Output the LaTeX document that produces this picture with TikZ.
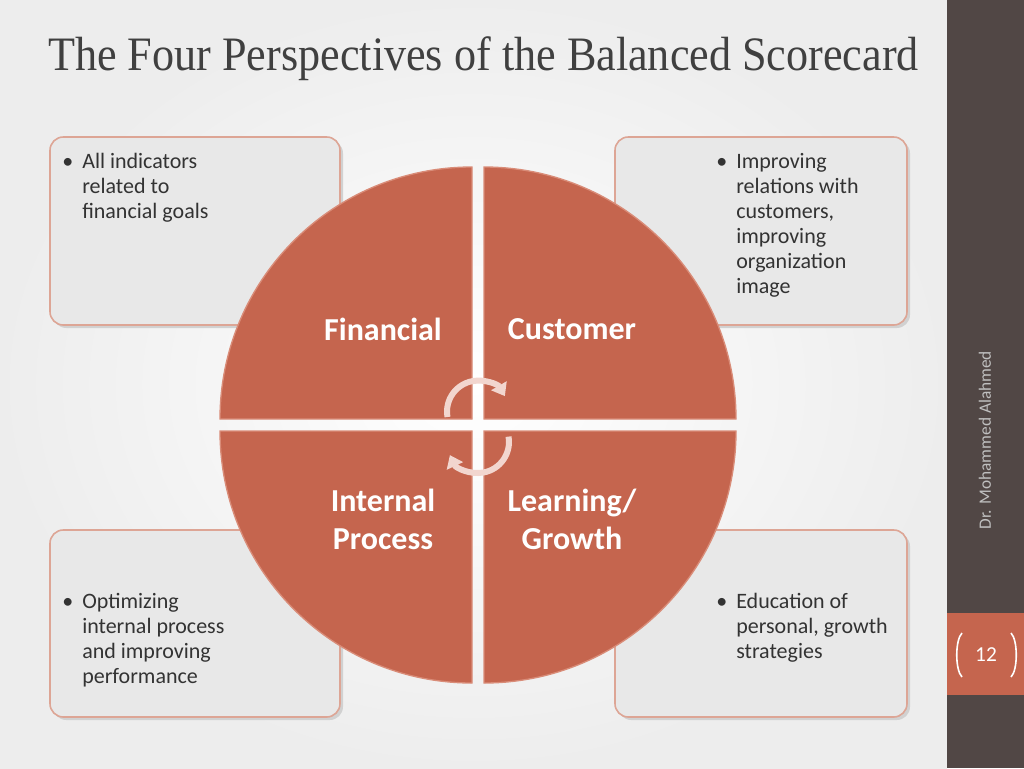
\documentclass[tikz,border=0pt]{standalone}
\usepackage{fontspec}
\setmainfont{Carlito}
\newfontfamily\titlefont{Liberation Serif}
\definecolor{quad}{HTML}{C5654E}
\definecolor{quadb}{HTML}{D98C78}
\definecolor{boxf}{HTML}{E8E8E8}
\definecolor{boxb}{HTML}{DDA595}
\definecolor{side}{HTML}{514745}
\definecolor{txt}{HTML}{333333}
\definecolor{arr}{HTML}{F2D6CF}
\usetikzlibrary{arrows.meta,shadows}
\newcommand{\bl}{\makebox[15pt][l]{\textbullet}}
\newcommand{\ind}{\hspace*{15pt}}
\tikzset{
 infobox/.style={draw=boxb,line width=1.2pt,fill=boxf,rounded corners=10pt},
 quarter/.style={fill=quad,draw=quadb,line width=1pt},
 qlabel/.style={text=white,font=\bfseries\fontsize{24}{28.5}\selectfont,align=center},
 btext/.style={text=txt,font=\fontsize{16.5}{18.75}\selectfont,align=left,anchor=north west,inner sep=0pt},
 cyc/.style={draw=arr,line width=4.5pt,-{Triangle[length=9pt,width=13pt]}}
}
\begin{document}
\begin{tikzpicture}[x=0.75pt,y=-0.75pt]
\useasboundingbox (0,0) rectangle (1024,768);
\shade[inner color=white,outer color=black!7] (0,0) rectangle (947,768);
\fill[side] (947,0) rectangle (1024,768);
\fill[quad] (947,613) rectangle (1024,695);
\draw[white,line width=1.2pt] (962,633) .. controls (955,640) and (955,670) .. (962,677);
\draw[white,line width=1.2pt] (1011,633) .. controls (1018,640) and (1018,670) .. (1011,677);
\node[text=white,font=\fontsize{16}{19}\selectfont] (pg) at (986,655) {12};
\node[rotate=90,text=black!25,font=\fontsize{13}{15}\selectfont] (auth) at (985,440) {Dr. Mohammed Alahmed};
\node[anchor=base west,inner sep=0pt,text=black!75,font=\titlefont\fontsize{36}{40}\selectfont,xscale=0.92] (title) at (48,70) {The Four Perspectives of the Balanced Scorecard};
% shadows
\fill[black!18,rounded corners=10pt] (53,140) rectangle (343,328);
\fill[black!18,rounded corners=10pt] (618,140) rectangle (910,328);
\fill[black!18,rounded corners=10pt] (53,533) rectangle (343,720);
\fill[black!18,rounded corners=10pt] (618,533) rectangle (910,720);
% boxes
\path[infobox] (50,137) rectangle (340,325);
\path[infobox] (615,137) rectangle (907,325);
\path[infobox] (50,530) rectangle (340,717);
\path[infobox] (615,530) rectangle (907,717);
\node[btext] (t1) at (62,153) {\bl All indicators\\\ind related to\\\ind financial goals};
\node[btext] (t2) at (716,153) {\bl Improving\\\ind relations with\\\ind customers,\\\ind improving\\\ind organization\\\ind image};
\node[btext] (t3) at (62,593) {\bl Optimizing\\\ind internal process\\\ind and improving\\\ind performance};
\node[btext] (t4) at (716,593) {\bl Education of\\\ind personal, growth\\\ind strategies};
% quarters
\path[quarter] (472,419) -- ++(-252,0) arc[start angle=180,end angle=270,radius=252] -- cycle;
\path[quarter] (484,419) -- ++(0,-252) arc[start angle=270,end angle=360,radius=252] -- cycle;
\path[quarter] (472,431) -- ++(0,252) arc[start angle=90,end angle=180,radius=252] -- cycle;
\path[quarter] (484,431) -- ++(252,0) arc[start angle=0,end angle=90,radius=252] -- cycle;
\node[qlabel] (fin) at (383,329) {Financial};
\node[qlabel] (cus) at (572,329) {Customer};
\node[qlabel] (int) at (383,519) {Internal\\Process};
\node[qlabel] (lea) at (572,519) {Learning/\\Growth};
\draw[cyc] (447.5,417) arc[start angle=170,end angle=330,radius=31];
\draw[cyc] (508.5,436.6) arc[start angle=-10,end angle=155,radius=31];
\end{tikzpicture}
\end{document}
